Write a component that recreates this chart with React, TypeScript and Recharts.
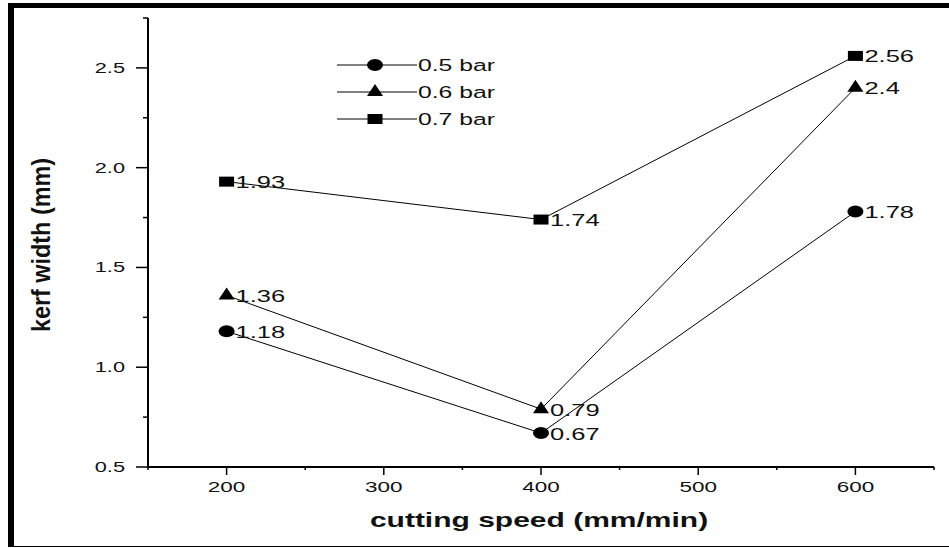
import React from 'react';
import { LineChart, Line, XAxis, YAxis, Legend, LabelList, Label } from 'recharts';

// cutting speed (mm/min) and kerf width (mm) per nozzle pressure
const speeds = [200, 400, 600];
const kerf05 = [1.18, 0.67, 1.78];
const kerf06 = [1.36, 0.79, 2.4];
const kerf07 = [1.93, 1.74, 2.56];
const seriesNames = ['0.5 bar', '0.6 bar', '0.7 bar'];
const seriesKeys = ['p05', 'p06', 'p07'];
const seriesShapes = ['circle', 'triangle', 'square'];
const xTicks = [150, 200, 250, 300, 350, 400, 450, 500, 550, 600, 650];
const yTicks = [0.5, 0.75, 1, 1.25, 1.5, 1.75, 2, 2.25, 2.5, 2.75];

const data = speeds.map((s, i) => ({ speed: s, p05: kerf05[i], p06: kerf06[i], p07: kerf07[i] }));

const FONT = '"Liberation Sans", Arial, sans-serif';
const WIDE = 1.5; // the original figure is stretched sideways

// text drawn wider than normal, like the stretched original
function WideText({ x, y, anchor = 'start', size, bold, children }: any) {
  return (
    <text
      transform={`translate(${x},${y}) scale(${WIDE},1)`}
      textAnchor={anchor}
      fontSize={size}
      fontWeight={bold ? 'bold' : 'normal'}
      fill="#111"
      fontFamily={FONT}
    >
      {children}
    </text>
  );
}

function Marker({ shape, cx, cy }: { shape: string; cx: number; cy: number }) {
  if (shape === 'circle') return <ellipse cx={cx} cy={cy} rx={8} ry={6} fill="#000" />;
  if (shape === 'triangle')
    return <polygon points={`${cx - 8},${cy + 4} ${cx + 8},${cy + 4} ${cx},${cy - 8}`} fill="#000" />;
  return <rect x={cx - 7.5} y={cy - 5} width={15} height={10} fill="#000" />;
}

const YTick = (props: any) => {
  const { x, y, payload } = props;
  const v = payload.value;
  const major = Math.abs(v * 2 - Math.round(v * 2)) < 1e-6;
  return (
    <g>
      <line x1={x - (major ? 12 : 5)} y1={y} x2={x} y2={y} stroke="#000" strokeWidth={1.5} />
      {major && (
        <WideText x={x - 23} y={y + 5} anchor="end" size={14.5}>
          {v.toFixed(1)}
        </WideText>
      )}
    </g>
  );
};

const XTick = (props: any) => {
  const { x, y, payload } = props;
  const v = payload.value;
  const major = v % 100 === 0;
  return (
    <g>
      <line x1={x} y1={y} x2={x} y2={y + (major ? 8 : 3)} stroke="#000" strokeWidth={1.5} />
      {major && (
        <WideText x={x} y={y + 25} anchor="middle" size={15}>
          {v}
        </WideText>
      )}
    </g>
  );
};

const ValueLabel = (props: any) => {
  const { x, y, value } = props;
  return (
    <WideText x={x + 9} y={y + 6.5} size={17}>
      {value}
    </WideText>
  );
};

const LegendBox = () => (
  <svg width={190} height={90}>
    {seriesNames.map((name, i) => {
      const y = 15 + i * 27;
      return (
        <g key={name}>
          <line x1={7} x2={87} y1={y} y2={y} stroke="#000" strokeWidth={1} />
          <Marker shape={seriesShapes[i]} cx={45} cy={y} />
          <WideText x={88} y={y + 6} size={16.5}>
            {name}
          </WideText>
        </g>
      );
    })}
  </svg>
);

export default function App() {
  return (
    <div style={{ position: 'absolute', left: 0, top: 0, width: 949, height: 548, background: '#fff' }}>
      <div
        style={{
          position: 'absolute',
          left: 8,
          top: 3,
          width: 941,
          height: 544,
          boxSizing: 'border-box',
          borderTop: '5px solid #000',
          borderLeft: '6px solid #000',
          borderBottom: '1px solid #000',
        }}
      />
      <div style={{ position: 'absolute', left: 0, top: 0 }}>
        <LineChart width={949} height={548} data={data} margin={{ top: 18, right: 15, left: 0, bottom: 51 }}>
          <XAxis
            dataKey="speed"
            type="number"
            domain={[150, 650]}
            ticks={xTicks}
            interval={0}
            height={30}
            tickSize={0}
            tickMargin={0}
            tick={<XTick />}
            axisLine={{ stroke: '#000', strokeWidth: 2 }}
            allowDataOverflow
          >
            <Label
              content={() => (
                <WideText x={539} y={527} anchor="middle" size={20} bold>
                  cutting speed (mm/min)
                </WideText>
              )}
            />
          </XAxis>
          <YAxis
            type="number"
            domain={[0.5, 2.75]}
            ticks={yTicks}
            interval={0}
            width={148}
            tickSize={0}
            tickMargin={0}
            tick={<YTick />}
            axisLine={{ stroke: '#000', strokeWidth: 2 }}
            allowDataOverflow
          >
            <Label
              content={() => (
                <text
                  transform="translate(50,245) rotate(-90) scale(1.17,1.3)"
                  textAnchor="middle"
                  fontSize={20}
                  fontWeight="bold"
                  fill="#111"
                  fontFamily={FONT}
                >
                  kerf width (mm)
                </text>
              )}
            />
          </YAxis>
          <Legend
            layout="vertical"
            align="center"
            verticalAlign="middle"
            content={() => <LegendBox />}
            wrapperStyle={{ left: 330, top: 50, width: 190, height: 90 }}
          />
          {seriesKeys.map((key, i) => (
            <Line
              key={key}
              dataKey={key}
              name={seriesNames[i]}
              stroke="#000"
              strokeWidth={1}
              isAnimationActive={false}
              activeDot={false}
              dot={(p: any) => <Marker key={`${key}-${p.index}`} shape={seriesShapes[i]} cx={p.cx} cy={p.cy} />}
            >
              <LabelList dataKey={key} content={<ValueLabel />} />
            </Line>
          ))}
        </LineChart>
      </div>
    </div>
  );
}
